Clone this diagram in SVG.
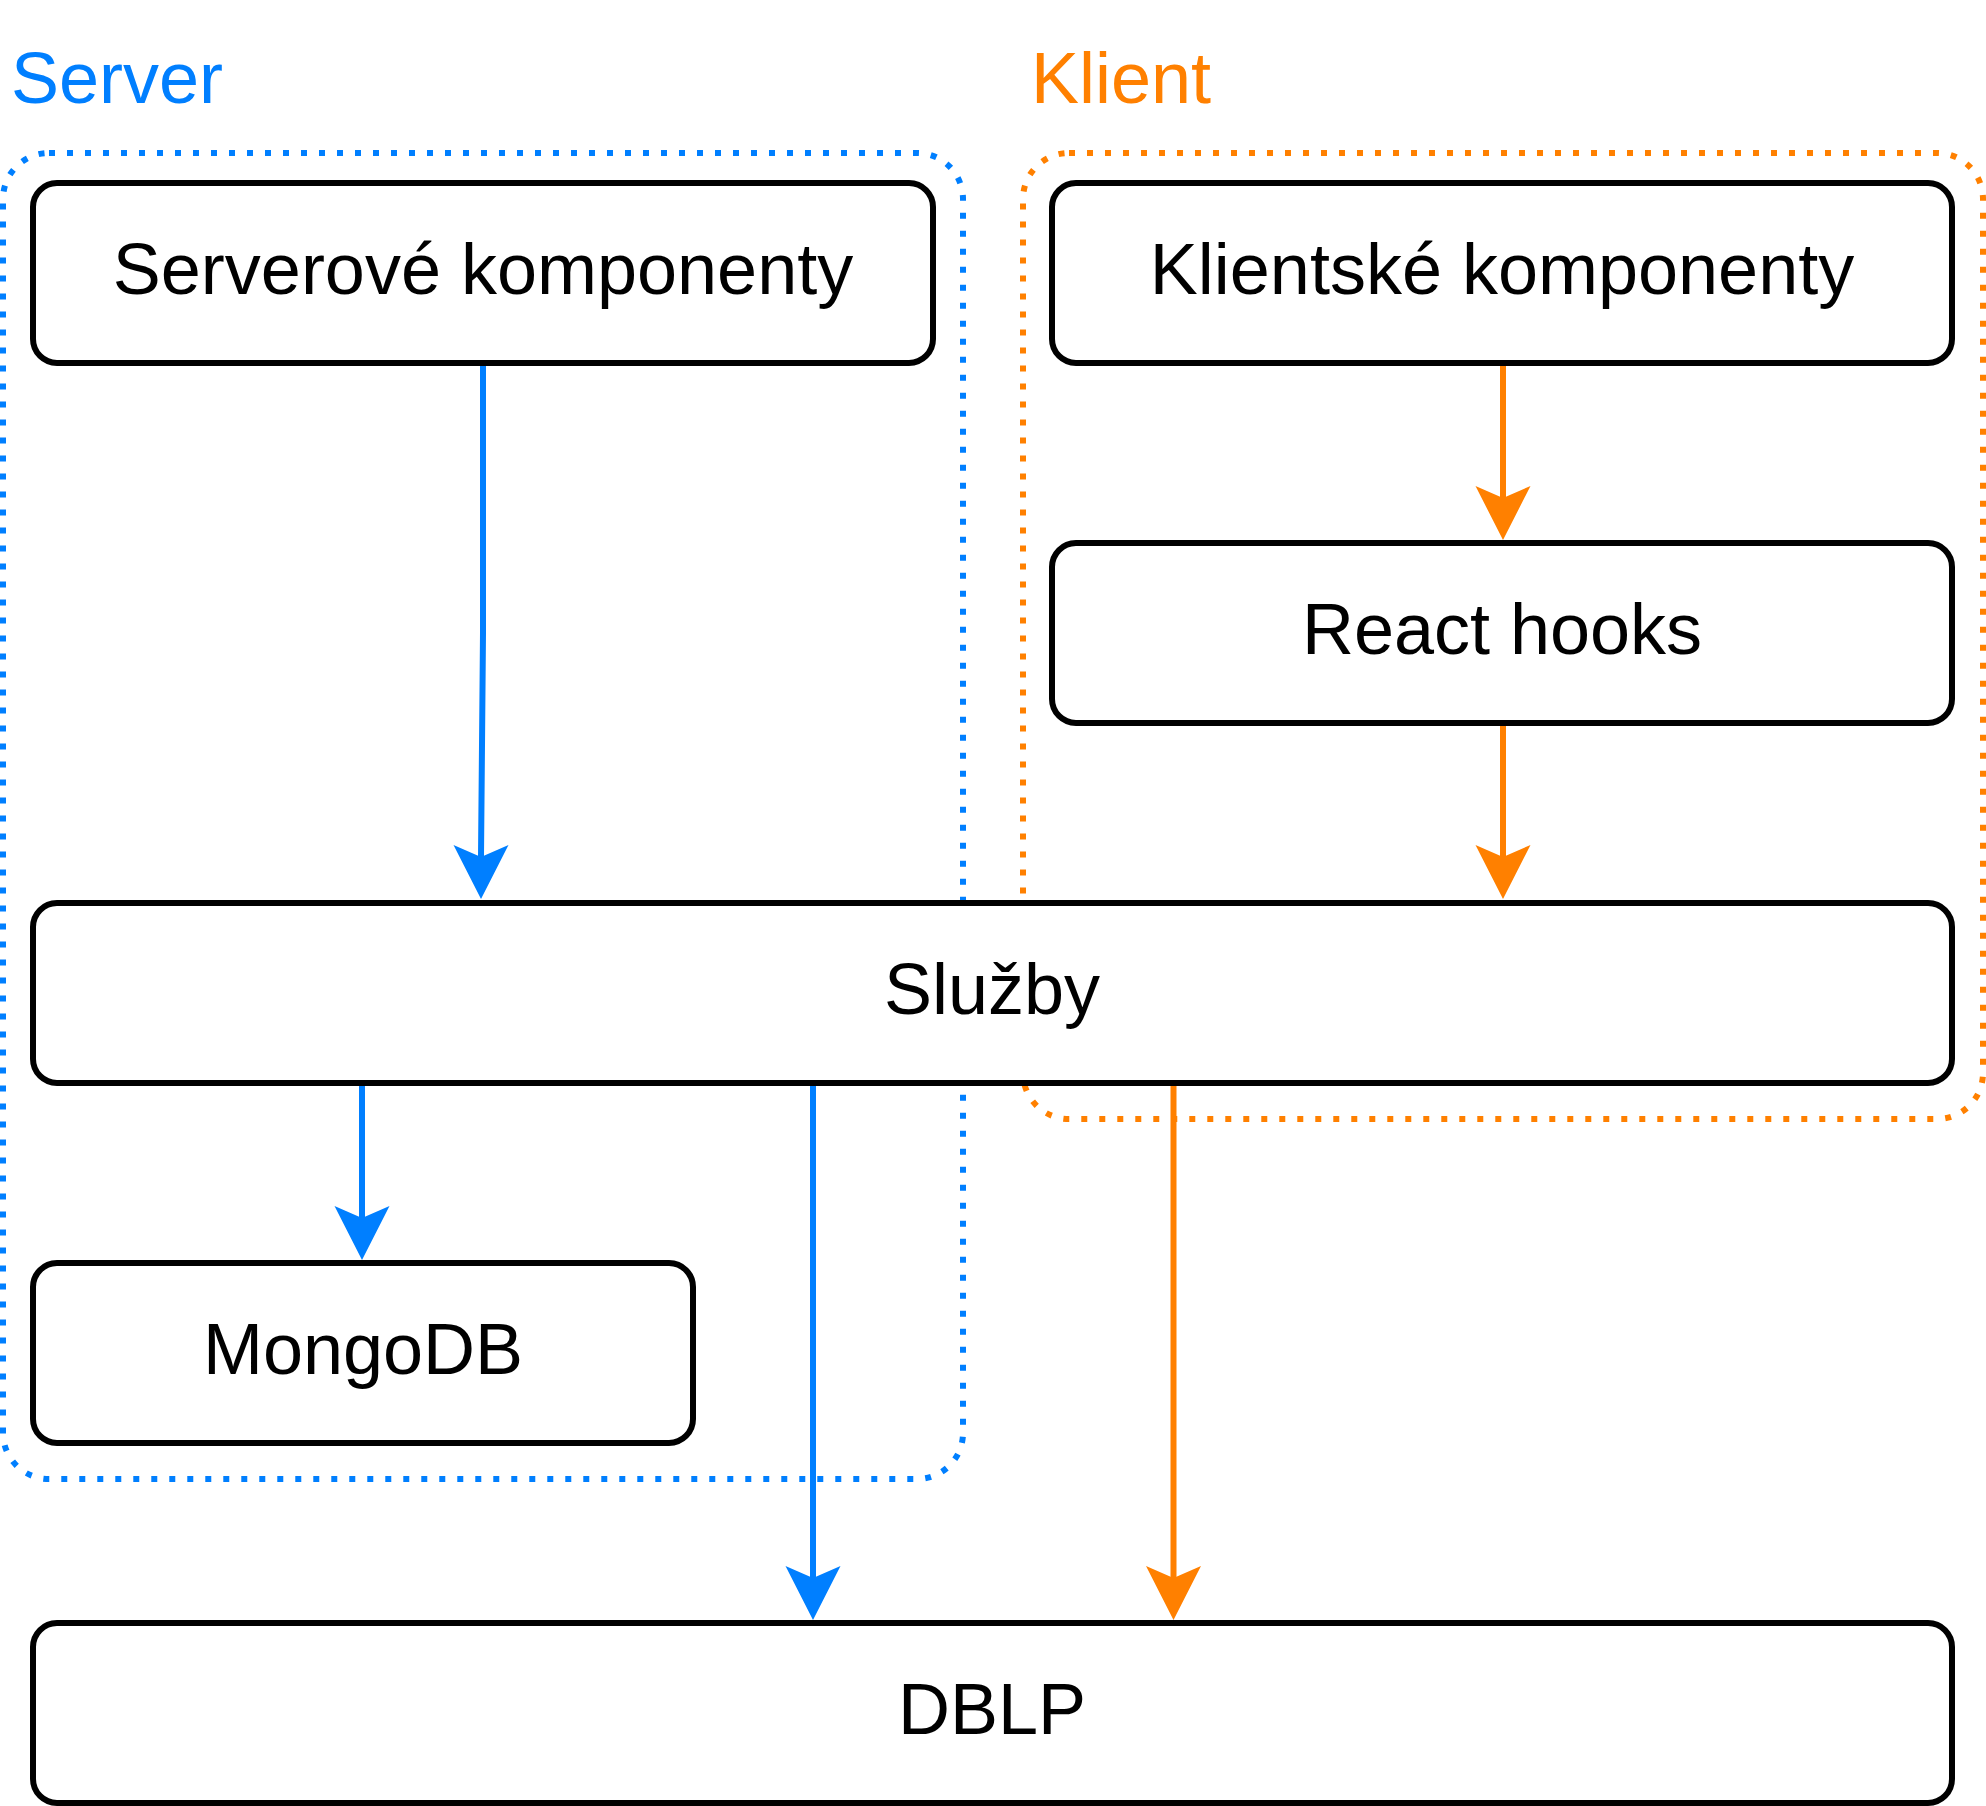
<svg xmlns="http://www.w3.org/2000/svg" width="1986" height="1806" viewBox="0 0 1986 1806">
<style>
.box{fill:#fff;stroke:#000;stroke-width:6}
.cont{fill:none;stroke-width:6;stroke-dasharray:6 12}
.lbl{font-family:"Liberation Sans",Arial,Helvetica,sans-serif;font-size:72px;fill:#000;text-anchor:middle}
.title{font-family:"Liberation Sans",Arial,Helvetica,sans-serif;font-size:72px}
.lb{stroke:#007FFF;stroke-width:6;fill:none}
.lo{stroke:#FF8000;stroke-width:6;fill:none}
.hb{fill:#007FFF}
.ho{fill:#FF8000}
</style>
<rect width="1986" height="1806" fill="#fff"/>
<g id="server-group">
<rect class="cont" x="3" y="153" width="960" height="1326" rx="46" stroke="#007FFF"/>
<text class="title" x="11" y="102.5" fill="#007FFF">Server</text>
</g>
<g id="klient-group">
<rect class="cont" x="1023" y="153" width="960" height="966" rx="46" stroke="#FF8000"/>
<text class="title" x="1031" y="102.5" fill="#FF8000">Klient</text>
</g>
<g id="serverove">
<rect class="box" x="33" y="183" width="900" height="180" rx="24"/>
<text class="lbl" x="483" y="294">Serverové komponenty</text>
</g>
<g id="klientske">
<rect class="box" x="1052" y="183" width="900" height="180" rx="24"/>
<text class="lbl" x="1502" y="294">Klientské komponenty</text>
</g>
<g id="react">
<rect class="box" x="1052" y="543" width="900" height="180" rx="24"/>
<text class="lbl" x="1502" y="654">React hooks</text>
</g>
<g id="sluzby">
<rect class="box" x="33" y="903" width="1919" height="180" rx="24"/>
<text class="lbl" x="992" y="1014">Služby</text>
</g>
<g id="mongodb">
<rect class="box" x="33" y="1263" width="660" height="180" rx="24"/>
<text class="lbl" x="363" y="1374">MongoDB</text>
</g>
<g id="dblp">
<rect class="box" x="33" y="1623" width="1919" height="180" rx="24"/>
<text class="lbl" x="992" y="1734">DBLP</text>
</g>
<g id="connectors">
<path class="lb" d="M483 366 L483 633 L481 857"/>
<path class="hb" d="M481 899 L453.5 845 L481 857 L508.5 845 Z"/>
<path class="lo" d="M1503 366 L1503 498"/>
<path class="ho" d="M1503 540 L1475.5 486 L1503 498 L1530.5 486 Z"/>
<path class="lo" d="M1503 726 L1503 857"/>
<path class="ho" d="M1503 899 L1475.5 845 L1503 857 L1530.5 845 Z"/>
<path class="lb" d="M362 1086 L362 1218"/>
<path class="hb" d="M362 1260 L334.5 1206 L362 1218 L389.5 1206 Z"/>
<path class="lb" d="M813 1086 L813 1578"/>
<path class="hb" d="M813 1620 L785.5 1566 L813 1578 L840.5 1566 Z"/>
<path class="lo" d="M1173.5 1086 L1173.5 1578"/>
<path class="ho" d="M1173.5 1620 L1146 1566 L1173.5 1578 L1201 1566 Z"/>
</g>
</svg>
